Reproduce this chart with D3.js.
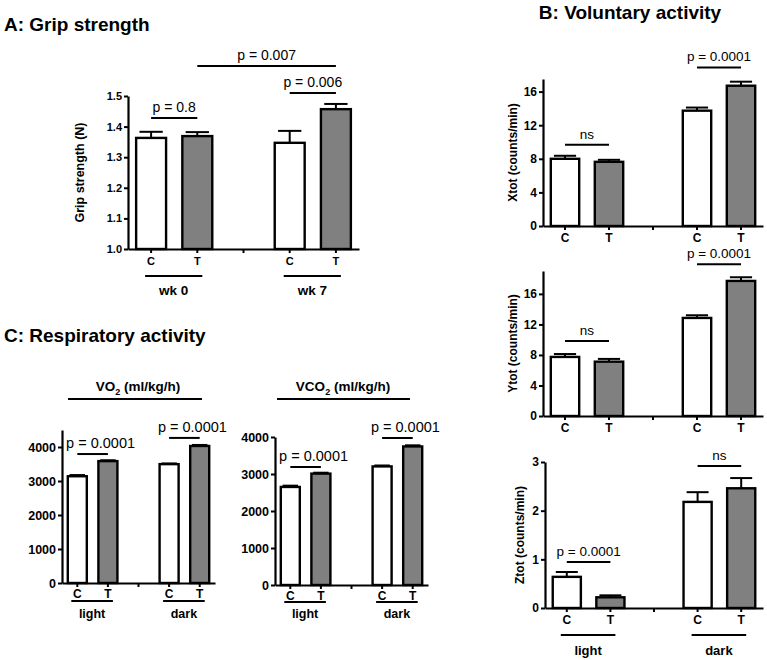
<!DOCTYPE html>
<html><head><meta charset="utf-8">
<script src="https://cdn.jsdelivr.net/npm/d3@7"></script>
<style>body{margin:0;background:#fff;}svg{display:block;}</style>
</head><body>
<svg id="c" width="767" height="660"></svg>
<script>
// ---------- data ----------
const slots = ["C1","T1","gap","C2","T2"];
const barSlots = ["C1","T1","C2","T2"];
const barLabels = ["C","T","C","T"];

const gripMean = [1.363, 1.369, 1.347, 1.457];
const gripSem  = [0.020, 0.013, 0.039, 0.017];
const gripTicks = [1.0, 1.1, 1.2, 1.3, 1.4, 1.5];
const gripGroups = ["wk 0", "wk 7"];

const xtotMean = [8.0, 7.64, 13.73, 16.7];
const xtotSem  = [0.36, 0.24, 0.37, 0.48];
const ytotMean = [7.74, 7.12, 12.85, 17.7];
const ytotSem  = [0.38, 0.36, 0.35, 0.48];
const ztotMean = [0.64, 0.22, 2.18, 2.46];
const ztotSem  = [0.10, 0.04, 0.20, 0.21];
const activityTicks = [0, 4, 8, 12, 16];
const ztotTicks = [0, 1, 2, 3];
const lightDark = ["light", "dark"];

const vo2Mean  = [3140, 3585, 3496, 4030];
const vo2Sem   = [35, 25, 20, 30];
const vco2Mean = [2650, 3010, 3205, 3745];
const vco2Sem  = [35, 25, 25, 30];
const respTicks = [0, 1000, 2000, 3000, 4000];

// annotations: [fromSlot, toSlot, level (data units), label]
const gripAnn = [["C1","T1",1.428,"p = 0.8"],["C2","T2",1.51,"p = 0.006"],["T1","T2",1.598,"p = 0.007"]];
const xtotAnn = [["C1","T1",9.67,"ns"],["C2","T2",18.87,"p = 0.0001"]];
const ytotAnn = [["C1","T1",9.83,"ns"],["C2","T2",19.9,"p = 0.0001"]];
const ztotAnn = [["C1","T1",0.945,"p = 0.0001"],["C2","T2",2.92,"ns"]];
const vo2Ann  = [["C1","T1",3793,"p = 0.0001"],["C2","T2",4267,"p = 0.0001"]];
const vco2Ann = [["C1","T1",3189,"p = 0.0001"],["C2","T2",3973,"p = 0.0001"]];

// ---------- drawing ----------
const FONT = "'Liberation Sans', Arial, Helvetica, sans-serif";
const svg = d3.select("#c").style("font-family", FONT);
const GRAY = "#808080";

function panel(o) {
  const g = svg.append("g");
  const x = d3.scaleBand().domain(slots).range([o.x0, o.x1]).paddingInner(0.3).paddingOuter(0.15);
  const y = d3.scaleLinear().domain(o.domain).range([o.yBottom, o.yTop]);
  const bw = x.bandwidth();
  const cx = s => x(s) + bw / 2;

  // error bars (up only)
  barSlots.forEach((s, i) => {
    const top = y(o.means[i] + o.sems[i]);
    g.append("line").attr("x1", cx(s)).attr("x2", cx(s)).attr("y1", y(o.means[i])).attr("y2", top)
      .attr("stroke", "#000").attr("stroke-width", 2);
    g.append("line").attr("x1", cx(s) - bw * 0.36).attr("x2", cx(s) + bw * 0.36).attr("y1", top).attr("y2", top)
      .attr("stroke", "#000").attr("stroke-width", 2);
  });
  // bars
  g.selectAll("rect.bar").data(o.means).join("rect").attr("class", "bar")
    .attr("x", (d, i) => x(barSlots[i]) + 1.2)
    .attr("width", bw - 2.4)
    .attr("y", d => y(d))
    .attr("height", d => y(o.domain[0]) - y(d))
    .attr("fill", (d, i) => i % 2 ? GRAY : "#fff")
    .attr("stroke", "#000").attr("stroke-width", 2.4);

  // y axis
  const ya = g.append("g").attr("transform", `translate(${o.x0},0)`)
    .call(d3.axisLeft(y).tickValues(o.ticks).tickFormat(o.fmt).tickSize(4).tickSizeOuter(0).tickPadding(2));
  ya.select(".domain").attr("stroke-width", 2.2);
  ya.selectAll(".tick line").attr("stroke-width", 2);
  ya.selectAll("text").attr("font-family", FONT).attr("font-weight", "bold").attr("font-size", o.tickFont).attr("fill", "#000");

  // x axis
  const xa = g.append("g").attr("transform", `translate(0,${o.yBottom})`)
    .call(d3.axisBottom(x).tickSize(4).tickSizeOuter(0).tickFormat(""));
  xa.select(".domain").attr("stroke-width", 2.2);
  xa.selectAll(".tick line").attr("stroke-width", 2);
  barSlots.forEach((s, i) => {
    g.append("text").attr("x", cx(s)).attr("y", o.yBottom + o.catDy).attr("text-anchor", "middle")
      .attr("font-weight", "bold").attr("font-size", o.catFont).text(barLabels[i]);
  });

  // annotations
  o.ann.forEach(a => {
    const yy = y(a[2]);
    const xa1 = cx(a[0]), xa2 = cx(a[1]);
    g.append("line").attr("x1", xa1).attr("x2", xa2).attr("y1", yy).attr("y2", yy)
      .attr("stroke", "#000").attr("stroke-width", 2);
    g.append("text").attr("x", (xa1 + xa2) / 2 + (o.annDx || 0)).attr("y", yy - 6)
      .attr("text-anchor", "middle").attr("font-size", o.annFont).text(a[3]);
  });

  // groups
  if (o.groups) {
    [["C1","T1"],["C2","T2"]].forEach((p, i) => {
      const a1 = cx(p[0]) - 6, a2 = cx(p[1]) + 5;
      g.append("line").attr("x1", a1).attr("x2", a2).attr("y1", o.groupLineY).attr("y2", o.groupLineY)
        .attr("stroke", "#000").attr("stroke-width", 2);
      g.append("text").attr("x", (a1 + a2) / 2).attr("y", o.groupTextY).attr("text-anchor", "middle")
        .attr("font-weight", "bold").attr("font-size", o.groupFont).text(o.groups[i]);
    });
  }

  // y label
  if (o.ylabel) {
    g.append("text").attr("transform", `translate(${o.ylabelX},${(o.yTop + o.yBottom) / 2}) rotate(-90)`)
      .attr("text-anchor", "middle").attr("dy", "0.35em").attr("font-weight", "bold")
      .attr("font-size", o.ylabelFont).text(o.ylabel);
  }
  return {g, x, y};
}

// Titles
svg.append("text").attr("x", 4).attr("y", 31).attr("font-weight", "bold").attr("font-size", 19).text("A: Grip strength");
svg.append("text").attr("x", 630).attr("y", 19).attr("text-anchor", "middle").attr("font-weight", "bold").attr("font-size", 19).text("B: Voluntary activity");
svg.append("text").attr("x", 4).attr("y", 342).attr("font-weight", "bold").attr("font-size", 19).text("C: Respiratory activity");

// Panel A
panel({x0: 128, x1: 359, yTop: 96, yBottom: 249, domain: [1.0, 1.5], ticks: gripTicks, fmt: d3.format(".1f"),
  means: gripMean, sems: gripSem, ann: gripAnn, tickFont: 11, catFont: 11, catDy: 16, annFont: 14,
  groups: gripGroups, groupLineY: 276, groupTextY: 295, groupFont: 13.5,
  ylabel: "Grip strength (N)", ylabelX: 80, ylabelFont: 12.5});

// Panel B
panel({x0: 543, x1: 763, yTop: 79, yBottom: 226, domain: [0, 17.5], ticks: activityTicks, fmt: d3.format("d"),
  means: xtotMean, sems: xtotSem, ann: xtotAnn, tickFont: 12, catFont: 12, catDy: 16, annFont: 13.5,
  ylabel: "Xtot (counts/min)", ylabelX: 513, ylabelFont: 12});
panel({x0: 543, x1: 763, yTop: 271, yBottom: 416, domain: [0, 19], ticks: activityTicks, fmt: d3.format("d"),
  means: ytotMean, sems: ytotSem, ann: ytotAnn, tickFont: 12, catFont: 12, catDy: 16, annFont: 13.5,
  ylabel: "Ytot (counts/min)", ylabelX: 513, ylabelFont: 12});
panel({x0: 545, x1: 763, yTop: 462, yBottom: 608, domain: [0, 3], ticks: ztotTicks, fmt: d3.format("d"),
  means: ztotMean, sems: ztotSem, ann: ztotAnn, tickFont: 12, catFont: 12, catDy: 16, annFont: 13.5,
  groups: lightDark, groupLineY: 635, groupTextY: 655, groupFont: 13,
  ylabel: "Ztot (counts/min)", ylabelX: 520, ylabelFont: 12});

// Panel C
panel({x0: 62, x1: 215, yTop: 430, yBottom: 583, domain: [0, 4500], ticks: respTicks, fmt: d3.format("d"),
  means: vo2Mean, sems: vo2Sem, ann: vo2Ann, tickFont: 12.5, catFont: 12, catDy: 15, annFont: 14.5, annDx: 8,
  groups: lightDark, groupLineY: 601, groupTextY: 618, groupFont: 12.5});
panel({x0: 275, x1: 428, yTop: 437, yBottom: 585, domain: [0, 4000], ticks: respTicks, fmt: d3.format("d"),
  means: vco2Mean, sems: vco2Sem, ann: vco2Ann, tickFont: 12.5, catFont: 12, catDy: 15, annFont: 14.5, annDx: 8,
  groups: lightDark, groupLineY: 602, groupTextY: 618, groupFont: 12.5});

// Panel C sub-titles
function subTitle(cx, base, x1, x2, pre) {
  const t = svg.append("text").attr("x", cx).attr("y", base).attr("text-anchor", "middle")
    .attr("font-weight", "bold").attr("font-size", 13.5);
  t.append("tspan").text(pre);
  t.append("tspan").attr("font-size", 9).attr("dy", 4).text("2");
  t.append("tspan").attr("dy", -4).text(" (ml/kg/h)");
  svg.append("line").attr("x1", x1).attr("x2", x2).attr("y1", 399).attr("y2", 399).attr("stroke", "#000").attr("stroke-width", 2);
}
subTitle(138, 391, 68, 202, "VO");
subTitle(343, 391, 277, 410, "VCO");
</script>
</body></html>
